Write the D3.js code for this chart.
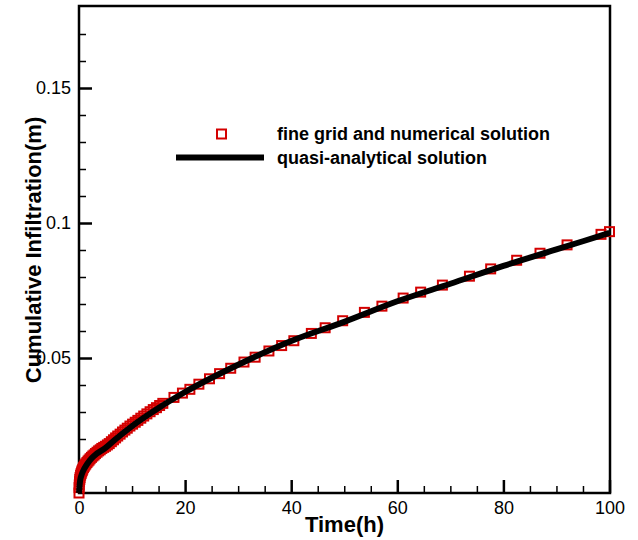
<!DOCTYPE html>
<html>
<head>
<meta charset="utf-8">
<script src="https://cdn.jsdelivr.net/npm/d3@7"></script>
<style>
  body { margin: 0; background: #fff; }
  svg { font-family: "Liberation Sans", Arial, sans-serif; }
  .tick text { font-size: 18px; fill: #000; }
  .axis-label { font-size: 22px; font-weight: bold; }
  .legend-text { font-size: 18px; font-weight: bold; }
</style>
</head>
<body>
<svg width="638" height="540"></svg>
<script>
const width = 638;
const height = 540;

const margin = { top: 6, right: 28, bottom: 47, left: 79 };

// numerical solution (markers)
const numTime = [0, 0.02, 0.05, 0.1, 0.15, 0.2, 0.3, 0.4, 0.5, 0.6, 0.7, 0.85, 1.0, 1.15, 1.3,
  1.5, 1.7, 1.9, 2.1, 2.35, 2.6, 2.85, 3.1, 3.4, 3.7, 4.0, 4.3, 4.65, 5.0, 5.35, 5.7, 6.1,
  6.5, 6.9, 7.3, 7.75, 8.2, 8.65, 9.1, 9.6, 10.1, 10.6, 11.1, 11.65, 12.2, 12.8, 13.4, 14.0,
  14.6, 15.2, 15.8, 17.9, 19.5, 20.9, 22.6, 24.6, 26.5, 28.6, 31.1, 33.2, 35.8, 38.2, 40.5,
  43.8, 46.4, 49.7, 53.8, 57.1, 61.1, 64.4, 68.5, 73.6, 77.6, 82.5, 86.9, 92.0, 98.4, 100];
const numInfil = [0, 0.0020, 0.0030, 0.0042, 0.0050, 0.0057, 0.0066, 0.0072, 0.0078, 0.0083,
  0.0088, 0.0094, 0.0099, 0.0104, 0.0108, 0.0113, 0.0118, 0.0122, 0.0127, 0.0132, 0.0137,
  0.0141, 0.0146, 0.0151, 0.0156, 0.0160, 0.0165, 0.0169, 0.0173, 0.0178, 0.0183, 0.0190,
  0.0197, 0.0204, 0.0211, 0.0218, 0.0226, 0.0233, 0.0240, 0.0248, 0.0255, 0.0262, 0.0269,
  0.0277, 0.0285, 0.0293, 0.0301, 0.0309, 0.0316, 0.0324, 0.0332, 0.0354, 0.0370, 0.0384,
  0.0403, 0.0423, 0.0442, 0.0462, 0.0485, 0.0503, 0.0526, 0.0546, 0.0564, 0.0591, 0.0612,
  0.0638, 0.0669, 0.0692, 0.0722, 0.0744, 0.0770, 0.0803, 0.0830, 0.0862, 0.0888, 0.0919,
  0.0958, 0.0968];

// quasi-analytical solution (line)
const anaTime = [0, 0.2, 0.5, 1, 2, 3, 5, 7, 10, 15, 20, 30, 40, 50, 60, 70, 80, 90, 100];
const anaInfil = [0, 0.0045, 0.0068, 0.0090, 0.0120, 0.0140, 0.0167, 0.0201, 0.0248, 0.0315,
  0.0374, 0.0475, 0.0563, 0.0634, 0.0710, 0.0775, 0.0841, 0.0902, 0.0963];

// tick values and labels
const xTicks = [0, 20, 40, 60, 80, 100];
const xMinor = [5, 10, 15, 25, 30, 35, 45, 50, 55, 65, 70, 75, 85, 90, 95];
const yTicks = [0.05, 0.1, 0.15];
const yTickLabels = ["0.05", "0.1", "0.15"];
const yMinor = [0.01, 0.02, 0.03, 0.04, 0.06, 0.07, 0.08, 0.09, 0.11, 0.12, 0.13, 0.14, 0.16, 0.17];

const numData = numTime.map((t, i) => ({ t: t, v: numInfil[i] }));
const anaData = anaTime.map((t, i) => ({ t: t, v: anaInfil[i] }));

const svg = d3.select("svg");

// x scale
const xScale = d3.scaleLinear()
    .domain([0, 100])
    .range([margin.left, width - margin.right - 0.5]);

// y scale
const yScale = d3.scaleLinear()
    .domain([0, 0.18])
    .range([height - margin.bottom, margin.top + 1]);

// minor ticks
svg.append("g")
    .attr("transform", `translate(0, ${height - margin.bottom})`)
    .call(d3.axisBottom(xScale).tickValues(xMinor).tickSize(-7).tickFormat(""))
    .call(g => g.select(".domain").remove())
    .call(g => g.selectAll("line").attr("stroke-width", 1.5));

svg.append("g")
    .attr("transform", `translate(${margin.left},0)`)
    .call(d3.axisLeft(yScale).tickValues(yMinor).tickSize(-7).tickFormat(""))
    .call(g => g.select(".domain").remove())
    .call(g => g.selectAll("line").attr("stroke-width", 1.5));

// major ticks
svg.append("g")
    .attr("transform", `translate(0, ${height - margin.bottom})`)
    .call(d3.axisBottom(xScale).tickValues(xTicks).tickSize(-13).tickPadding(8).tickFormat(d3.format("d")))
    .call(g => g.select(".domain").remove())
    .call(g => g.selectAll("line").attr("stroke-width", 2.5))
    .call(g => g.selectAll("text").attr("font-family", null).attr("font-size", null));

svg.append("g")
    .attr("transform", `translate(${margin.left},0)`)
    .call(d3.axisLeft(yScale).tickValues(yTicks).tickSize(-13).tickPadding(8)
        .tickFormat((d, i) => yTickLabels[i]))
    .call(g => g.select(".domain").remove())
    .call(g => g.selectAll("line").attr("stroke-width", 2.5))
    .call(g => g.selectAll("text").attr("font-family", null).attr("font-size", null));

// plot frame
svg.append("rect")
    .attr("x", margin.left)
    .attr("y", margin.top)
    .attr("width", width - margin.left - margin.right)
    .attr("height", height - margin.top - margin.bottom)
    .attr("fill", "none")
    .attr("stroke", "#000")
    .attr("stroke-width", 2.5);

// numerical markers
svg.append("g")
    .selectAll("rect")
    .data(numData)
    .join("rect")
    .attr("x", d => xScale(d.t) - 4.5)
    .attr("y", d => yScale(d.v) - 4.5)
    .attr("width", 9)
    .attr("height", 9)
    .attr("fill", "none")
    .attr("stroke", "#d40000")
    .attr("stroke-width", 2);

// analytical line
const anaLine = d3.line()
    .x(d => xScale(d.t))
    .y(d => yScale(d.v))
    .curve(d3.curveMonotoneX);

svg.append("path")
    .datum(anaData)
    .attr("fill", "none")
    .attr("stroke", "#000")
    .attr("stroke-width", 6)
    .attr("d", anaLine);

// x axis label
svg.append("text")
    .attr("x", (margin.left + width - margin.right) / 2)
    .attr("y", 532)
    .attr("text-anchor", "middle")
    .attr("class", "axis-label")
    .text("Time(h)");

// y axis label
svg.append("text")
    .attr("transform", "rotate(-90)")
    .attr("x", -250)
    .attr("y", 41)
    .attr("text-anchor", "middle")
    .attr("class", "axis-label")
    .text("Cumulative Infiltration(m)");

// legend
svg.append("rect")
    .attr("x", 217)
    .attr("y", 129.5)
    .attr("width", 9)
    .attr("height", 9)
    .attr("fill", "none")
    .attr("stroke", "#d40000")
    .attr("stroke-width", 2);

svg.append("text")
    .attr("x", 277)
    .attr("y", 139.5)
    .attr("class", "legend-text")
    .text("fine grid and numerical solution");

svg.append("line")
    .attr("x1", 176)
    .attr("x2", 264)
    .attr("y1", 157.5)
    .attr("y2", 157.5)
    .attr("stroke", "#000")
    .attr("stroke-width", 6);

svg.append("text")
    .attr("x", 277)
    .attr("y", 163.5)
    .attr("class", "legend-text")
    .text("quasi-analytical solution");
</script>
</body>
</html>
